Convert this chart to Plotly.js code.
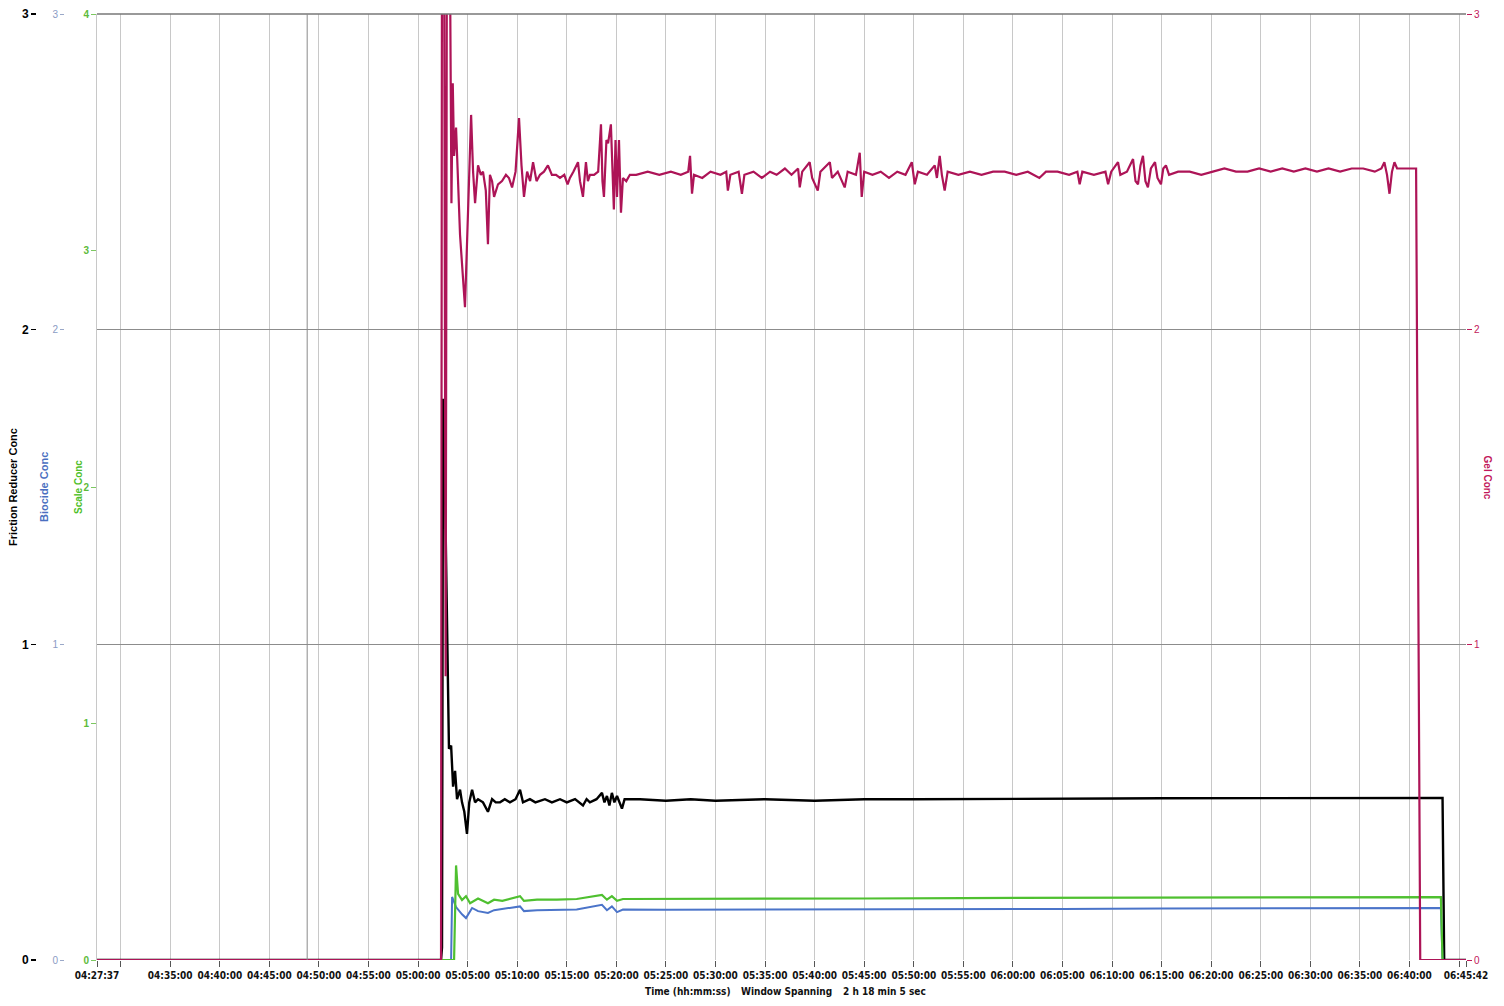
<!DOCTYPE html>
<html><head><meta charset="utf-8">
<script src="https://cdn.plot.ly/plotly-3.0.1.min.js"></script>
<style>html,body{margin:0;padding:0;background:#fff}#chart{width:1504px;height:1006px}</style>
</head><body><div id="chart"></div>
<script>
// ---- data (times hh:mm:ss) ----
const gelTime = ["04:27:37","05:02:19","05:02:25","05:02:37","05:02:47","05:02:55","05:03:14","05:03:22","05:03:30","05:03:38","05:03:50","05:04:02","05:04:14","05:04:44","05:05:03","05:05:21","05:05:33","05:05:45","05:06:03","05:06:20","05:06:33","05:06:50","05:07:03","05:07:15","05:07:28","05:07:40","05:08:04","05:08:28","05:08:52","05:09:10","05:09:29","05:09:50","05:10:11","05:10:26","05:10:41","05:11:00","05:11:18","05:11:36","05:11:57","05:12:18","05:12:42","05:13:06","05:13:30","05:13:55","05:14:19","05:14:45","05:15:05","05:15:19","05:15:40","05:16:08","05:16:20","05:16:38","05:16:56","05:17:08","05:17:20","05:17:45","05:18:10","05:18:27","05:18:36","05:18:45","05:19:00","05:19:10","05:19:27","05:19:36","05:19:45","05:19:55","05:20:04","05:20:16","05:20:28","05:20:40","05:21:00","05:21:22","05:22:00","05:23:10","05:24:20","05:25:30","05:26:30","05:27:15","05:27:26","05:27:38","05:27:50","05:28:40","05:29:30","05:30:30","05:31:05","05:31:15","05:31:30","05:32:20","05:32:40","05:32:55","05:33:50","05:34:40","05:35:30","05:36:10","05:37:00","05:37:40","05:38:20","05:38:30","05:38:45","05:39:30","05:39:45","05:40:19","05:40:35","05:41:32","05:41:45","05:42:20","05:43:02","05:43:20","05:44:10","05:44:33","05:44:45","05:45:00","05:45:50","05:46:40","05:47:30","05:48:20","05:49:10","05:49:48","05:50:06","05:50:25","05:51:20","05:52:07","05:52:20","05:52:37","05:52:50","05:53:07","05:53:25","05:54:30","05:55:40","05:56:50","05:58:00","05:59:10","06:00:20","06:01:30","06:02:40","06:03:20","06:04:30","06:05:40","06:06:30","06:06:44","06:07:00","06:08:10","06:09:20","06:09:36","06:09:55","06:10:36","06:10:50","06:11:30","06:12:07","06:12:22","06:12:37","06:12:52","06:13:07","06:13:22","06:13:37","06:13:55","06:14:20","06:14:35","06:14:56","06:15:10","06:15:26","06:15:45","06:16:40","06:17:50","06:19:00","06:20:10","06:21:20","06:22:30","06:23:40","06:24:50","06:26:00","06:27:10","06:28:20","06:29:30","06:30:40","06:31:50","06:33:00","06:34:10","06:35:20","06:36:30","06:37:10","06:37:28","06:37:44","06:37:59","06:38:14","06:38:29","06:38:45","06:39:30","06:40:40","06:41:05","06:45:42"];
const gelConc = [0,0,3.4,3.4,0.9,3.4,3.1,2.40,2.78,2.55,2.64,2.45,2.30,2.07,2.35,2.68,2.50,2.40,2.52,2.49,2.50,2.44,2.27,2.49,2.47,2.42,2.46,2.47,2.49,2.48,2.45,2.50,2.67,2.52,2.42,2.50,2.47,2.53,2.47,2.49,2.50,2.52,2.49,2.49,2.48,2.49,2.46,2.48,2.50,2.53,2.47,2.42,2.53,2.47,2.49,2.49,2.50,2.65,2.47,2.42,2.60,2.59,2.65,2.48,2.38,2.60,2.42,2.60,2.37,2.48,2.47,2.49,2.49,2.50,2.49,2.50,2.49,2.50,2.55,2.43,2.49,2.48,2.50,2.49,2.50,2.44,2.49,2.50,2.43,2.49,2.50,2.48,2.50,2.49,2.51,2.49,2.51,2.45,2.50,2.53,2.48,2.44,2.50,2.53,2.48,2.50,2.45,2.50,2.49,2.56,2.42,2.50,2.49,2.50,2.48,2.50,2.49,2.53,2.46,2.50,2.49,2.52,2.48,2.55,2.49,2.44,2.50,2.49,2.50,2.49,2.50,2.50,2.49,2.50,2.48,2.50,2.50,2.49,2.50,2.46,2.50,2.49,2.50,2.46,2.50,2.53,2.49,2.50,2.54,2.47,2.46,2.52,2.55,2.47,2.45,2.51,2.53,2.48,2.46,2.51,2.52,2.49,2.50,2.50,2.49,2.50,2.51,2.50,2.50,2.51,2.50,2.51,2.50,2.51,2.50,2.51,2.50,2.51,2.51,2.50,2.51,2.53,2.49,2.43,2.50,2.53,2.51,2.51,2.51,0,0];

const frTime = ["04:27:37","05:02:19","05:02:25","05:02:31","05:02:40","05:02:55","05:03:07","05:03:20","05:03:32","05:03:44","05:03:56","05:04:14","05:04:26","05:04:40","05:04:56","05:05:10","05:05:27","05:05:45","05:06:03","05:06:33","05:07:03","05:07:28","05:07:50","05:08:16","05:08:45","05:09:16","05:09:50","05:10:17","05:10:35","05:11:17","05:11:50","05:12:48","05:13:30","05:14:19","05:15:00","05:15:50","05:16:38","05:17:00","05:17:20","05:18:00","05:18:33","05:18:48","05:19:03","05:19:18","05:19:33","05:19:48","05:20:04","05:20:34","05:20:50","05:21:04","05:22:23","05:25:00","05:27:30","05:30:00","05:35:00","05:40:00","05:45:00","05:50:00","05:55:00","06:00:00","06:05:00","06:10:00","06:15:00","06:20:00","06:25:00","06:30:00","06:35:00","06:40:00","06:43:20","06:43:30","06:45:42"];
const frConc = [0,0,0.04,1.78,1.60,1.00,0.67,0.68,0.55,0.60,0.51,0.54,0.50,0.47,0.40,0.50,0.54,0.50,0.51,0.50,0.47,0.51,0.50,0.50,0.51,0.50,0.51,0.54,0.50,0.51,0.50,0.51,0.50,0.51,0.50,0.51,0.49,0.51,0.50,0.51,0.53,0.50,0.52,0.49,0.53,0.50,0.52,0.48,0.51,0.51,0.51,0.505,0.51,0.505,0.51,0.505,0.51,0.51,0.51,0.51,0.512,0.512,0.513,0.513,0.514,0.514,0.514,0.514,0.514,0,0];

const scTime = ["04:27:37","05:03:38","05:03:50","05:04:02","05:04:26","05:04:50","05:05:15","05:06:03","05:07:03","05:07:40","05:08:30","05:10:17","05:10:41","05:12:00","05:14:00","05:16:00","05:18:33","05:19:03","05:19:33","05:20:04","05:20:40","05:25:00","05:35:00","05:45:00","05:55:00","06:05:00","06:15:00","06:25:00","06:35:00","06:43:10","06:43:20","06:45:42"];
const scaleConc = [0,0,0.40,0.28,0.254,0.27,0.24,0.26,0.24,0.255,0.25,0.27,0.25,0.255,0.255,0.258,0.275,0.255,0.27,0.25,0.258,0.258,0.26,0.26,0.262,0.263,0.265,0.265,0.266,0.266,0,0];

const bcTime = ["04:27:37","05:03:20","05:03:26","05:03:50","05:04:26","05:04:50","05:05:27","05:06:03","05:07:03","05:07:40","05:10:17","05:10:41","05:12:00","05:14:00","05:16:00","05:18:33","05:19:03","05:19:33","05:20:04","05:20:40","05:25:00","05:35:00","05:45:00","05:55:00","06:05:00","06:15:00","06:25:00","06:35:00","06:43:10","06:43:20","06:45:42"];
const biocideConc = [0,0,0.20,0.168,0.145,0.133,0.165,0.155,0.149,0.158,0.17,0.155,0.158,0.158,0.16,0.175,0.158,0.17,0.152,0.16,0.159,0.16,0.16,0.161,0.162,0.163,0.164,0.165,0.165,0,0];

const tickTimes = ["04:27:37","04:30:00","04:35:00","04:40:00","04:45:00","04:50:00","04:55:00","05:00:00","05:05:00","05:10:00","05:15:00","05:20:00","05:25:00","05:30:00","05:35:00","05:40:00","05:45:00","05:50:00","05:55:00","06:00:00","06:05:00","06:10:00","06:15:00","06:20:00","06:25:00","06:30:00","06:35:00","06:40:00","06:45:00","06:45:42"];
const hiddenTicks = ["04:30:00","06:45:00"];

// ---- build ----
const DAY = "2000-01-01 ";
const D = a => a.map(t => DAY + t);
const W = 1466; // paper width in px (margin l = 0, r = 38)
const px = v => v / W;
const fontN = "DejaVu Sans Condensed, Liberation Sans Narrow, Liberation Sans, Arial, sans-serif";
const fontS = "Liberation Sans, Arial, sans-serif";

const traces = [
  {x: D(gelTime), y: gelConc, yaxis: "y4", mode: "lines", line: {color: "#ad1457", width: 2.2}, name: "Gel Conc"},
  {x: D(bcTime), y: biocideConc, yaxis: "y2", mode: "lines", line: {color: "#4b74c9", width: 2}, name: "Biocide Conc"},
  {x: D(scTime), y: scaleConc, yaxis: "y3", mode: "lines", line: {color: "#4fc030", width: 2.2}, name: "Scale Conc"},
  {x: D(frTime), y: frConc, yaxis: "y", mode: "lines", line: {color: "#000000", width: 2.4}, name: "Friction Reducer Conc"}
];

const ann = (text, x, y, angle, font) => ({text, xref: "paper", yref: "paper", x, y, textangle: angle,
  xanchor: "center", yanchor: "middle", showarrow: false, font});

const layout = {
  width: 1504, height: 1006,
  margin: {l: 0, r: 38, t: 14, b: 46},
  paper_bgcolor: "#fff", plot_bgcolor: "#fff",
  showlegend: false,
  xaxis: {
    type: "date", domain: [px(97), 1],
    range: [DAY + "04:27:37", DAY + "06:45:42"],
    tickmode: "array", tickvals: D(tickTimes),
    ticktext: tickTimes.map(t => hiddenTicks.includes(t) ? "" : t),
    ticks: "outside", ticklen: 6, tickcolor: "#555", tickwidth: 1,
    tickangle: 0,
    tickfont: {family: fontN, size: 10, color: "#111", weight: "bold", stretch: "condensed"},
    showgrid: true, gridcolor: "#c8c8c8", gridwidth: 1,
    zeroline: false, showline: false
  },
  yaxis: {
    range: [0, 3], anchor: "free", position: px(36),
    tickvals: [0, 1, 2, 3], ticks: "outside", ticklen: 5, tickcolor: "#000", tickwidth: 1.5,
    tickfont: {family: fontS, size: 12, color: "#000", weight: "bold"},
    showgrid: true, gridcolor: "#8c8c8c", gridwidth: 1, zeroline: false, showline: false
  },
  yaxis2: {
    range: [0, 3], overlaying: "y", anchor: "free", position: px(64),
    tickvals: [0, 1, 2, 3], ticks: "outside", ticklen: 4, tickcolor: "#9aa8c8",
    tickfont: {family: fontS, size: 10, color: "#8b9bc4"},
    showgrid: false, zeroline: false, showline: false
  },
  yaxis3: {
    range: [0, 4], overlaying: "y", anchor: "x", side: "left",
    tickvals: [0, 1, 2, 3, 4], ticks: "outside", ticklen: 5, tickcolor: "#7cc860",
    tickfont: {family: fontS, size: 10, color: "#5dbb3a", weight: "bold"},
    showgrid: false, zeroline: false, showline: true, linecolor: "#c8c8c8", linewidth: 1
  },
  yaxis4: {
    range: [0, 3], overlaying: "y", anchor: "x", side: "right",
    tickvals: [0, 1, 2, 3], ticks: "outside", ticklen: 5, tickcolor: "#c2185b",
    tickfont: {family: fontS, size: 10, color: "#c2185b"},
    showgrid: false, zeroline: false, showline: false
  },
  shapes: [
    {type: "line", xref: "paper", yref: "paper", x0: px(97), x1: 1, y0: 1, y1: 1, line: {color: "#777", width: 1.5}},
    {type: "line", xref: "x", yref: "paper", x0: DAY + "04:48:49", x1: DAY + "04:48:49", y0: 0, y1: 1, line: {color: "#8a8a8a", width: 1}}
  ],
  annotations: [
    ann("Friction Reducer Conc", px(13), 0.5, -90, {family: fontS, size: 11, color: "#000", weight: "bold"}),
    ann("Biocide Conc", px(44), 0.5, -90, {family: fontS, size: 11, color: "#4a6fc0", weight: "bold"}),
    ann("Scale Conc", px(78), 0.5, -90, {family: fontS, size: 10, color: "#4fbf2a", weight: "bold"}),
    ann("Gel Conc", px(1487), 0.51, 90, {family: fontS, size: 10, color: "#c2185b", weight: "bold"}),
    ann("Time (hh:mm:ss)", px(688), -32/946, 0, {family: fontN, size: 10, color: "#111", weight: "bold", stretch: "condensed"}),
    ann("Window Spanning", px(786), -32/946, 0, {family: fontN, size: 10, color: "#111", weight: "bold", stretch: "condensed"}),
    ann("2 h 18 min 5 sec", px(884), -32/946, 0, {family: fontN, size: 10, color: "#111", weight: "bold", stretch: "condensed"})
  ]
};

Plotly.newPlot("chart", traces, layout, {displayModeBar: false, staticPlot: true});
</script></body></html>
